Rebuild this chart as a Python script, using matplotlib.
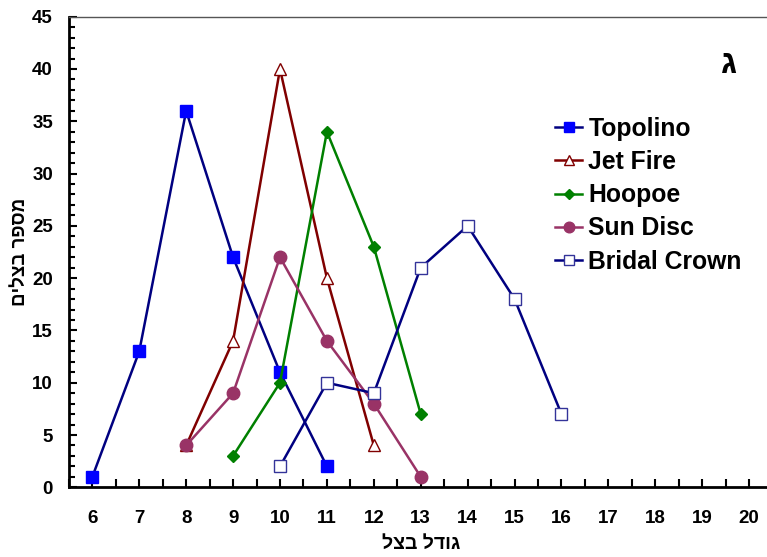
import matplotlib
matplotlib.use('Agg')
import matplotlib.pyplot as plt
from matplotlib.ticker import MultipleLocator

plt.rcParams['font.family'] = ['Liberation Sans', 'DejaVu Sans']
plt.rcParams['font.weight'] = 'bold'

# data
topolino_x = [6, 7, 8, 9, 10, 11]
topolino_y = [1, 13, 36, 22, 11, 2]
jetfire_x = [8, 9, 10, 11, 12]
jetfire_y = [4, 14, 40, 20, 4]
hoopoe_x = [9, 10, 11, 12, 13]
hoopoe_y = [3, 10, 34, 23, 7]
sundisc_x = [8, 9, 10, 11, 12, 13]
sundisc_y = [4, 9, 22, 14, 8, 1]
bridal_x = [10, 11, 12, 13, 14, 15, 16]
bridal_y = [2, 10, 9, 21, 25, 18, 7]

# hebrew labels (matplotlib has no bidi, so give them in visual order)
xlabel = 'גודל בצל'[::-1]
ylabel = 'מספר בצלים'[::-1]

fig = plt.figure(figsize=(7.67, 5.57), dpi=100)
ax = fig.add_axes([0.0898, 0.1251, 0.9175, 0.8449])

ax.plot(topolino_x, topolino_y, color='#000080', lw=1.8, marker='s', ms=9,
        mfc='#0000FF', mec='#0000FF', label='Topolino')
ax.plot(jetfire_x, jetfire_y, color='#800000', lw=1.8, marker='^', ms=9,
        mfc='white', mec='#800000', mew=1, label='Jet Fire')
ax.plot(hoopoe_x, hoopoe_y, color='#008000', lw=1.8, marker='D', ms=6.5,
        mfc='#008000', mec='#008000', label='Hoopoe')
ax.plot(sundisc_x, sundisc_y, color='#993366', lw=1.8, marker='o', ms=9,
        mfc='#993366', mec='#993366', label='Sun Disc')
ax.plot(bridal_x, bridal_y, color='#000080', lw=1.8, marker='s', ms=9,
        mfc='white', mec='#333399', mew=1, label='Bridal Crown')

ax.set_xlim(5.5, 20.5)
ax.set_ylim(0, 45)
ax.xaxis.set_major_locator(MultipleLocator(1))
ax.xaxis.set_minor_locator(MultipleLocator(0.5))
ax.yaxis.set_major_locator(MultipleLocator(5))
ax.yaxis.set_minor_locator(MultipleLocator(1))
ax.tick_params(which='both', direction='in', width=1.5, labelsize=13.5)
ax.tick_params(axis='x', which='both', length=6, pad=16)
ax.tick_params(axis='y', which='major', length=6, pad=11.5)
ax.tick_params(axis='y', which='minor', length=4)
ax.tick_params(top=False, right=False, which='both')

for side in ['left', 'bottom']:
    ax.spines[side].set_linewidth(2)
ax.spines['top'].set_linewidth(1)
ax.spines['top'].set_color('#555555')
ax.spines['right'].set_visible(False)

ax.set_xlabel(xlabel, fontsize=14, fontweight='bold', va='center')
ax.xaxis.set_label_coords(0.5, -0.1205)
ax.set_ylabel(ylabel, fontsize=13.5, fontweight='bold', rotation=90,
              va='center', ha='center')
ax.yaxis.set_label_coords(-0.0685, 0.50)

fig.text(0.951, 0.885, 'ג', fontsize=24, fontweight='bold', ha='center', va='center')

leg = ax.legend(loc='upper left', bbox_to_anchor=(0.7236, 0.790), frameon=False,
                prop={'size': 17.8, 'weight': 'bold'}, handlelength=1.1,
                handletextpad=0.25, labelspacing=0.37, markerscale=0.85,
                borderaxespad=0, borderpad=0,
                bbox_transform=fig.transFigure)

fig.savefig('out.png', dpi=100)
